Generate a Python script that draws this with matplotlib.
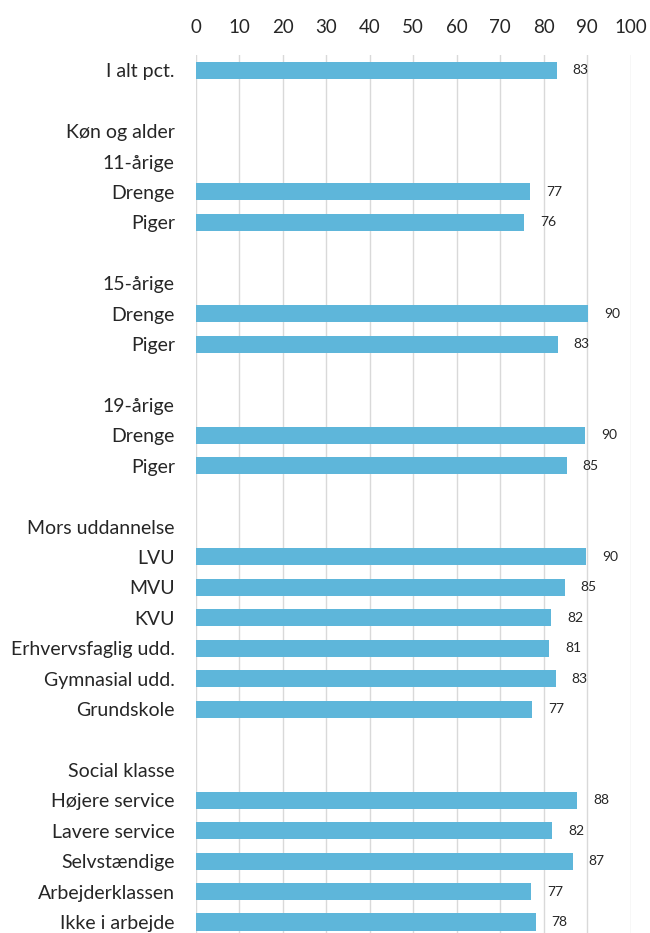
import matplotlib
matplotlib.use("Agg")
import matplotlib.pyplot as plt

# row labels, top to bottom ('' = empty spacer row)
labels = ["I alt pct.", "", "Køn og alder", "11-årige", "Drenge", "Piger", "",
          "15-årige", "Drenge", "Piger", "", "19-årige", "Drenge", "Piger", "",
          "Mors uddannelse", "LVU", "MVU", "KVU", "Erhvervsfaglig udd.",
          "Gymnasial udd.", "Grundskole", "", "Social klasse", "Højere service",
          "Lavere service", "Selvstændige", "Arbejderklassen", "Ikke i arbejde"]

# bar lengths (None = no bar)
values = [83.0, None, None, None, 76.9, 75.5, None,
          None, 90.2, 83.3, None, None, 89.5, 85.3, None,
          None, 89.8, 84.9, 81.7, 81.3, 82.8, 77.4, None,
          None, 87.7, 82.0, 86.7, 77.2, 78.2]

xticks = [0, 10, 20, 30, 40, 50, 60, 70, 80, 90, 100]

bar_color = "#5EB6DA"
text_color = "#262626"

plt.rcParams["font.family"] = ["Lato", "DejaVu Sans"]

fig = plt.figure(figsize=(6.5, 9.33), dpi=100)
ax = fig.add_axes([0.301, -0.0045, 0.669, 0.9455])

ypos = list(range(len(labels)))
for y, v in zip(ypos, values):
    if v is None:
        continue
    ax.barh(y, v, height=0.56, color=bar_color, zorder=3)
    ax.annotate(f"{v:.0f}", xy=(v, y), xytext=(11.5, 0), textcoords="offset points",
                ha="left", va="center", fontsize=10, color=text_color)

ax.set_xlim(0, 100)
ax.set_ylim(len(labels) - 0.5, -0.5)
ax.set_xticks(xticks)
ax.xaxis.tick_top()
ax.tick_params(axis="x", length=0, pad=14, labelsize=13.5, labelcolor=text_color)
ax.set_yticks(ypos)
ax.set_yticklabels(labels)
ax.tick_params(axis="y", length=0, pad=15, labelsize=14, labelcolor=text_color)

ax.grid(axis="x", color="#D9D9D9", linewidth=1, zorder=0)
for s in ax.spines.values():
    s.set_visible(False)

fig.savefig("out.png", dpi=100)
